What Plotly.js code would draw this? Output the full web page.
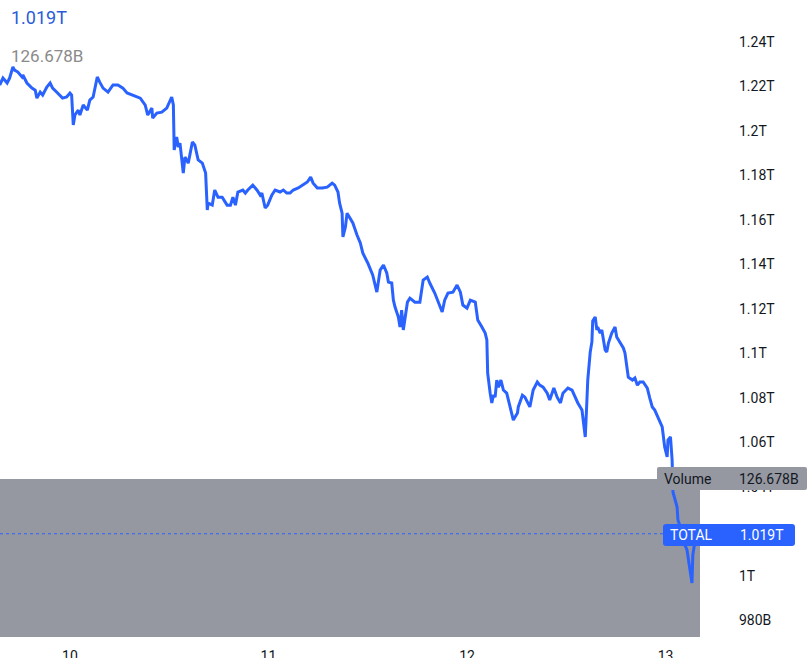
<!DOCTYPE html>
<html>
<head>
<meta charset="utf-8">
<script src="https://cdn.plot.ly/plotly-3.0.1.min.js"></script>
<style>html,body{margin:0;padding:0;background:#fff;}#chart{width:807px;height:658px;}</style>
</head>
<body>
<div id="chart"></div>
<script>
// Hours since day 10 00:00
const hours = [
-8.5,-8.1,-7.6,-7.3,-6.9,-6.7,-6.3,-5.8,-5.7,-5.2,-4.6,-4.2,-4.0,-3.6,-3.3,-2.8,-2.4,-2.1,-1.5,-0.9,-0.4,0.0,0.2,0.4,0.6,1.0,1.2,1.6,2.1,2.4,2.8,3.3,3.6,4.0,4.6,5.2,5.8,
6.4,6.9,7.6,8.5,9.1,9.4,9.9,10.0,10.5,11.1,11.7,12.0,12.3,12.5,12.6,12.9,13.1,13.3,13.5,13.7,13.9,14.3,14.8,15.1,15.5,16.0,16.4,16.6,16.7,17.2,17.5,17.9,18.4,19.0,19.4,19.7,20.0,20.3,20.9,
21.2,21.5,22.1,22.6,23.0,23.2,23.6,23.9,24.4,24.8,25.4,25.8,26.2,26.6,27.0,27.6,28.2,28.7,29.1,29.4,29.9,30.5,31.1,31.7,32.0,32.4,32.6,32.9,33.0,33.3,33.5,33.9,34.2,34.7,35.1,35.4,
36.0,36.6,37.1,37.5,37.9,38.3,38.5,38.9,39.1,39.3,39.7,39.9,40.1,40.3,40.8,41.1,41.7,42.3,42.7,43.2,43.5,44.1,44.7,45.0,45.3,45.7,46.3,46.8,47.2,47.5,48.0,48.4,49.0,49.3,49.8,50.2,
50.4,50.5,50.8,51.0,51.2,51.4,51.6,51.8,52.1,52.4,52.8,53.2,53.4,53.6,54.1,54.2,54.7,55.0,55.6,56.0,56.5,56.8,57.2,57.7,58.0,58.5,58.9,59.3,59.6,60.2,60.7,61.1,61.4,61.9,62.0,62.3,62.5,62.6,62.9,63.1,63.2,
63.5,63.7,63.8,64.1,64.3,64.5,64.7,64.9,65.1,65.5,65.9,66.1,66.5,66.9,67.1,67.4,67.5,68.0,68.3,68.6,68.9,69.3,69.8,70.1,70.4,70.7,71.1,71.6,71.9,72.2,72.3,72.6,72.8,72.9,73.4,73.5,73.8,74.1,74.6,75.0,75.2,75.3,75.6,75.7
];
// Total market cap, billions USD
const totalCap = [
1220.7,1223.8,1221.6,1223.8,1228.8,1227.4,1226.5,1224.3,1225.2,1221.6,1219.3,1218.4,1214.8,1217.5,1216.2,1219.8,1221.6,1219.3,1217.1,1214.8,1215.3,1217.1,1216.2,1202.7,1207.2,1209.4,1207.2,1211.7,1209.4,1213.9,1215.3,1224.3,1222.0,1219.3,1217.5,1220.7,1220.7,
1219.3,1217.1,1216.2,1214.8,1211.7,1207.2,1210.3,1205.8,1208.1,1208.5,1210.3,1213.0,1215.3,1211.7,1191.5,1197.3,1192.8,1194.6,1187.0,1181.1,1188.3,1185.6,1195.1,1193.7,1187.0,1185.6,1181.1,1164.5,1167.6,1166.7,1173.5,1170.3,1170.3,1166.7,1166.7,1170.3,1166.7,1172.6,1173.5,
1172.1,1173.5,1175.7,1173.5,1171.2,1172.1,1165.4,1166.7,1171.2,1173.5,1172.6,1173.5,1172.1,1172.1,1173.5,1174.4,1175.7,1177.1,1179.3,1176.6,1174.4,1174.4,1174.8,1176.6,1175.7,1172.6,1167.6,1163.1,1152.4,1156.9,1163.1,1160.9,1158.7,1153.3,1149.7,1145.2,
1140.7,1135.3,1127.6,1137.5,1139.8,1136.2,1132.1,1131.7,1124.0,1120.9,1116.4,1111.9,1119.5,1110.6,1123.1,1124.9,1123.1,1123.1,1133.0,1134.4,1131.7,1127.2,1120.9,1118.7,1124.0,1127.2,1127.6,1130.8,1127.6,1121.8,1120.4,1124.0,1123.1,1115.1,1111.9,1109.2,
1106.1,1091.2,1082.2,1077.8,1081.3,1080.4,1088.1,1084.9,1088.1,1083.6,1082.2,1076.0,1073.3,1070.1,1073.3,1076.0,1081.3,1080.4,1076.0,1083.6,1087.2,1085.8,1084.9,1082.2,1079.1,1084.5,1080.4,1077.8,1082.2,1084.5,1083.6,1080.0,1077.8,1074.6,1071.5,1062.5,1079.1,1088.1,1100.7,1105.2,1114.6,
1116.4,1110.6,1111.9,1109.2,1110.6,1106.1,1101.6,1100.7,1104.7,1109.2,1111.9,1107.4,1104.7,1102.5,1100.2,1091.7,1089.4,1088.1,1089.0,1085.8,1087.2,1087.2,1084.5,1080.0,1076.0,1074.6,1071.5,1067.0,1058.0,1053.5,1061.1,1062.5,1052.1,1037.8,1031.0,1025.2,1022.0,1016.2,1011.7,1002.7,996.9,1009.4,1016.2,1019.0
];
const xTickVals = [0, 24, 48, 72];
const xTickText = ["10", "11", "12", "13"];
const yTickVals = [980, 1000, 1020, 1040, 1060, 1080, 1100, 1120, 1140, 1160, 1180, 1200, 1220, 1240];
const yTickText = ["980B", "1T", "1.02T", "1.04T", "1.06T", "1.08T", "1.1T", "1.12T", "1.14T", "1.16T", "1.18T", "1.2T", "1.22T", "1.24T"];
const lastValueText = "1.019T";
const volumeText = "126.678B";
const seriesName = "TOTAL";

const W = 807, H = 658, mL = 0, mR = 107, mT = 0, mB = 21;
const plotW = W - mL - mR, plotH = H - mT - mB;
const px = x => (x - mL) / plotW;          // pixel -> paper x
const py = y => (H - mB - y) / plotH;       // pixel -> paper y
const lastVal = totalCap[totalCap.length - 1];
const blue = '#2962FF';
const gray = '#9598A1';
const font = 'Roboto, "Liberation Sans", sans-serif';

// rounded rectangle path in paper coords (pixel inputs)
function roundRect(x0, y0, x1, y1, r) {
  const rx = r / plotW, ry = r / plotH;
  const X0 = px(x0), X1 = px(x1), Y0 = py(y1), Y1 = py(y0); // Y0 bottom, Y1 top
  return `M${X0 + rx},${Y1} L${X1 - rx},${Y1} Q${X1},${Y1} ${X1},${Y1 - ry} L${X1},${Y0 + ry} Q${X1},${Y0} ${X1 - rx},${Y0} L${X0 + rx},${Y0} Q${X0},${Y0} ${X0},${Y0 + ry} L${X0},${Y1 - ry} Q${X0},${Y1} ${X0 + rx},${Y1} Z`;
}

const trace = {
  x: hours, y: totalCap, type: 'scatter', mode: 'lines',
  line: {color: blue, width: 3}, hoverinfo: 'skip'
};

const layout = {
  width: W, height: H,
  margin: {l: mL, r: mR, t: mT, b: mB, pad: 0},
  paper_bgcolor: '#fff', plot_bgcolor: '#fff',
  showlegend: false,
  font: {family: font, size: 14, color: '#131722'},
  xaxis: {
    range: [-8.46, 76.17], tickvals: xTickVals, ticktext: xTickText,
    showgrid: false, zeroline: false, showline: false, ticks: '',
    ticklabelstandoff: 9, tickfont: {size: 14, color: '#131722'}
  },
  yaxis: {
    side: 'right', range: [972.6, 1258.9], tickvals: yTickVals, ticktext: yTickText,
    showgrid: false, zeroline: false, showline: false, ticks: '',
    ticklabelstandoff: 38, tickfont: {size: 14, color: '#131722'}
  },
  shapes: [
    {type: 'rect', xref: 'paper', yref: 'paper', x0: 0, x1: 1, y0: 0, y1: py(479),
     fillcolor: gray, line: {width: 0}, layer: 'below'},
    {type: 'line', xref: 'paper', yref: 'y', x0: 0, x1: px(663), y0: lastVal, y1: lastVal,
     line: {color: blue, width: 1, dash: 'dot'}, layer: 'below'},
    {type: 'path', xref: 'paper', yref: 'paper', path: roundRect(657, 467, 807, 490, 2),
     fillcolor: gray, line: {width: 0}, layer: 'above'},
    {type: 'path', xref: 'paper', yref: 'paper', path: roundRect(663, 524, 795, 546, 3),
     fillcolor: blue, line: {width: 0}, layer: 'above'}
  ],
  annotations: [
    {xref: 'paper', yref: 'paper', x: px(9), y: py(18), xanchor: 'left', yanchor: 'middle',
     text: lastValueText, showarrow: false, font: {size: 18, color: '#2A5BD7', family: font}},
    {xref: 'paper', yref: 'paper', x: px(9), y: py(56), xanchor: 'left', yanchor: 'middle',
     text: volumeText, showarrow: false, font: {size: 17, color: '#8A8A8A', family: font}},
    {xref: 'paper', yref: 'paper', x: px(662), y: py(479), xanchor: 'left', yanchor: 'middle',
     text: 'Volume', showarrow: false, font: {size: 14, color: '#131722', family: font}},
    {xref: 'paper', yref: 'paper', x: px(737), y: py(479), xanchor: 'left', yanchor: 'middle',
     text: volumeText, showarrow: false, font: {size: 14, color: '#131722', family: font}},
    {xref: 'paper', yref: 'paper', x: px(668), y: py(535), xanchor: 'left', yanchor: 'middle',
     text: seriesName, showarrow: false, font: {size: 14, color: '#FFFFFF', family: font}},
    {xref: 'paper', yref: 'paper', x: px(738), y: py(535), xanchor: 'left', yanchor: 'middle',
     text: lastValueText, showarrow: false, font: {size: 14, color: '#FFFFFF', family: font}}
  ]
};

Plotly.newPlot('chart', [trace], layout, {displayModeBar: false, staticPlot: true});
</script>
</body>
</html>
